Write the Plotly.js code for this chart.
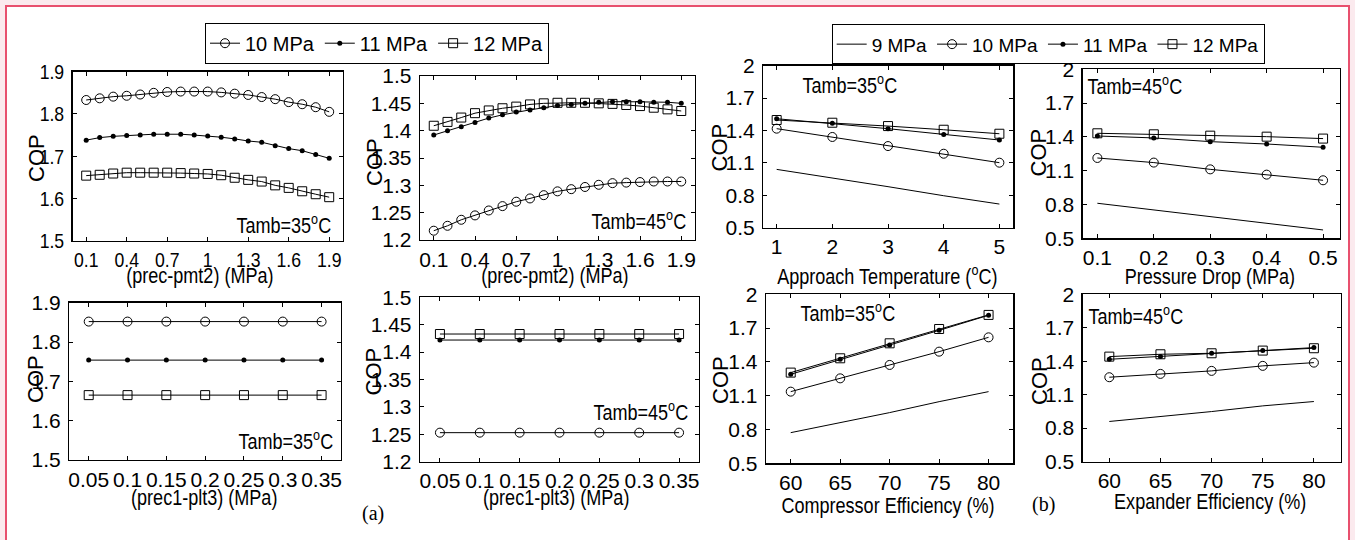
<!DOCTYPE html>
<html>
<head>
<meta charset="utf-8">
<script src="https://cdn.plot.ly/plotly-3.0.1.min.js"></script>
<style>html,body{margin:0;padding:0;background:#fbeaee;}#chart{width:1355px;height:540px;}</style>
</head>
<body>
<div id="chart"></div>
<script>
// ---------------- DATA ----------------
const seriesNames = ["9 MPa", "10 MPa", "11 MPa", "12 MPa"];

// (a) top row: COP vs (prec-pmt2)
const xPmt2 = [0.1,0.2,0.3,0.4,0.5,0.6,0.7,0.8,0.9,1.0,1.1,1.2,1.3,1.4,1.5,1.6,1.7,1.8,1.9];
const pmt2_T35_10 = [1.833,1.837,1.841,1.843,1.846,1.850,1.852,1.853,1.853,1.853,1.851,1.848,1.845,1.840,1.835,1.828,1.823,1.816,1.805];
const pmt2_T35_11 = [1.738,1.744,1.747,1.749,1.750,1.752,1.752,1.752,1.750,1.748,1.745,1.741,1.736,1.733,1.725,1.718,1.713,1.704,1.695];
const pmt2_T35_12 = [1.654,1.656,1.659,1.661,1.661,1.661,1.661,1.660,1.659,1.658,1.655,1.649,1.644,1.640,1.631,1.625,1.617,1.610,1.603];
const pmt2_T45_10 = [1.217,1.226,1.237,1.245,1.254,1.262,1.270,1.276,1.282,1.289,1.293,1.297,1.301,1.304,1.305,1.306,1.307,1.307,1.307];
const pmt2_T45_11 = [1.392,1.400,1.407,1.415,1.423,1.429,1.434,1.438,1.442,1.446,1.448,1.450,1.452,1.453,1.453,1.453,1.452,1.452,1.450];
const pmt2_T45_12 = [1.409,1.416,1.424,1.432,1.437,1.441,1.444,1.448,1.450,1.451,1.451,1.451,1.450,1.449,1.447,1.445,1.442,1.439,1.436];

// (a) bottom row: COP vs (prec1-plt3)
const xPlt3 = [0.05,0.1,0.15,0.2,0.25,0.3,0.35];
const plt3_T35_10 = [1.852,1.852,1.852,1.852,1.852,1.852,1.852];
const plt3_T35_11 = [1.754,1.754,1.754,1.754,1.754,1.754,1.754];
const plt3_T35_12 = [1.665,1.665,1.665,1.665,1.665,1.665,1.665];
const plt3_T45_10 = [1.253,1.253,1.253,1.253,1.253,1.253,1.253];
const plt3_T45_11 = [1.422,1.422,1.422,1.422,1.422,1.422,1.422];
const plt3_T45_12 = [1.433,1.433,1.433,1.433,1.433,1.433,1.433];

// (b) Approach temperature (Tamb=35)
const xApproach = [1,2,3,4,5];
const appr_9  = [1.040,0.963,0.880,0.796,0.719];
const appr_10 = [1.417,1.340,1.256,1.185,1.102];
const appr_11 = [1.509,1.466,1.417,1.364,1.312];
const appr_12 = [1.497,1.472,1.441,1.407,1.370];

// (b) Pressure drop (Tamb=45)
const xDrop = [0.1,0.2,0.3,0.4,0.5];
const drop_9  = [0.811,0.751,0.692,0.633,0.574];
const drop_10 = [1.213,1.172,1.112,1.065,1.015];
const drop_11 = [1.408,1.391,1.358,1.337,1.308];
const drop_12 = [1.432,1.423,1.411,1.402,1.385];

// (b) Compressor efficiency (Tamb=35)
const xComp = [60,65,70,75,80];
const comp_9  = [0.772,0.861,0.950,1.047,1.136];
const comp_10 = [1.136,1.254,1.373,1.491,1.618];
const comp_11 = [1.290,1.423,1.550,1.680,1.814];
const comp_12 = [1.305,1.432,1.565,1.692,1.817];

// (b) Expander efficiency (Tamb=45)
const xExp = [60,65,70,75,80];
const exp_9  = [0.859,0.903,0.948,0.999,1.038];
const exp_10 = [1.256,1.286,1.313,1.358,1.387];
const exp_11 = [1.417,1.441,1.471,1.495,1.522];
const exp_12 = [1.441,1.462,1.471,1.495,1.516];

// x-axis titles
const xTitles = ["(prec-pmt2) (MPa)", "(prec-pmt2) (MPa)", "(prec1-plt3) (MPa)", "(prec1-plt3) (MPa)",
  "Approach Temperature (<sup>o</sup>C)", "Pressure Drop (MPa)", "Compressor Efficiency (%)", "Expander Efficiency (%)"];
const yTitle = "COP";
const tambLabels = ["Tamb=35<sup>o</sup>C", "Tamb=45<sup>o</sup>C", "Tamb=35<sup>o</sup>C", "Tamb=45<sup>o</sup>C",
  "Tamb=35<sup>o</sup>C", "Tamb=45<sup>o</sup>C", "Tamb=35<sup>o</sup>C", "Tamb=45<sup>o</sup>C"];

// ---------------- STYLE / LAYOUT ----------------
const W = 1355, H = 540;
const SANS = "Liberation Sans, Arial, sans-serif";
const SERIF = "Liberation Serif, Times New Roman, serif";

const styles = {
  "9 MPa":  {mode: "lines"},
  "10 MPa": {mode: "lines+markers", marker: {symbol: "circle-open", size: 9, color: "black", line: {width: 1, color: "black"}}},
  "11 MPa": {mode: "lines+markers", marker: {symbol: "circle", size: 5, color: "black"}},
  "12 MPa": {mode: "lines+markers", marker: {symbol: "square-open", size: 9, color: "black", line: {width: 1, color: "black"}}}
};

const traces = [];
function add(x, y, name, idx, legend) {
  const s = styles[name];
  const t = {
    type: "scatter", x: x, y: y, name: name, mode: s.mode,
    line: {color: "black", width: 1},
    xaxis: idx === 1 ? "x" : "x" + idx,
    yaxis: idx === 1 ? "y" : "y" + idx,
    showlegend: !!legend, legendgroup: name
  };
  if (s.marker) t.marker = s.marker;
  if (legend) t.legend = legend;
  traces.push(t);
}
add(xPmt2, pmt2_T35_10, seriesNames[1], 1, "legend");
add(xPmt2, pmt2_T35_11, seriesNames[2], 1, "legend");
add(xPmt2, pmt2_T35_12, seriesNames[3], 1, "legend");
add(xPmt2, pmt2_T45_10, seriesNames[1], 2);
add(xPmt2, pmt2_T45_11, seriesNames[2], 2);
add(xPmt2, pmt2_T45_12, seriesNames[3], 2);
add(xPlt3, plt3_T35_10, seriesNames[1], 3);
add(xPlt3, plt3_T35_11, seriesNames[2], 3);
add(xPlt3, plt3_T35_12, seriesNames[3], 3);
add(xPlt3, plt3_T45_10, seriesNames[1], 4);
add(xPlt3, plt3_T45_11, seriesNames[2], 4);
add(xPlt3, plt3_T45_12, seriesNames[3], 4);
add(xApproach, appr_9,  seriesNames[0], 5, "legend2");
add(xApproach, appr_10, seriesNames[1], 5, "legend2");
add(xApproach, appr_11, seriesNames[2], 5, "legend2");
add(xApproach, appr_12, seriesNames[3], 5, "legend2");
add(xDrop, drop_9,  seriesNames[0], 6);
add(xDrop, drop_10, seriesNames[1], 6);
add(xDrop, drop_11, seriesNames[2], 6);
add(xDrop, drop_12, seriesNames[3], 6);
add(xComp, comp_9,  seriesNames[0], 7);
add(xComp, comp_10, seriesNames[1], 7);
add(xComp, comp_11, seriesNames[2], 7);
add(xComp, comp_12, seriesNames[3], 7);
add(xExp, exp_9,  seriesNames[0], 8);
add(xExp, exp_10, seriesNames[1], 8);
add(xExp, exp_11, seriesNames[2], 8);
add(xExp, exp_12, seriesNames[3], 8);

// panel geometry in pixels: box [left, right, top, bottom]; title/label centres in pixels
const panels = [
  {box: [72.7, 342.7, 71.7, 240.7],     xr: [0, 2],         x0: 0.1,  dx: 0.3,  yr: [1.5, 1.9], y0: 1.5, dy: 0.1,  xtPos: [200, 275],   copPos: [37, 158],     tamb: [284, 224]},
  {box: [420, 695, 76, 240],            xr: [0, 2],         x0: 0.1,  dx: 0.3,  yr: [1.2, 1.5], y0: 1.2, dy: 0.05, xtPos: [555, 275],   copPos: [374, 162],    tamb: [639, 220]},
  {box: [69.3, 341, 302.7, 460],        xr: [0.025, 0.375], x0: 0.05, dx: 0.05, yr: [1.5, 1.9], y0: 1.5, dy: 0.1,  xtPos: [204, 497],   copPos: [35, 379],     tamb: [286, 440]},
  {box: [420, 699, 297.3, 461.7],       xr: [0.025, 0.375], x0: 0.05, dx: 0.05, yr: [1.2, 1.5], y0: 1.2, dy: 0.05, xtPos: [556, 497],   copPos: [372.5, 372],  tamb: [641, 411]},
  {box: [763.3, 1013.3, 65.7, 227.7],   xr: [0.76, 5.25],   x0: 1,    dx: 1,    yr: [0.5, 2],   y0: 0.5, dy: 0.3,  xtPos: [887, 275],   copPos: [718.5, 148],  tamb: [850, 84]},
  {box: [1082.7, 1340, 69.3, 238.3],    xr: [0.074, 0.53],  x0: 0.1,  dx: 0.1,  yr: [0.5, 2],   y0: 0.5, dy: 0.3,  xtPos: [1210, 276],  copPos: [1037.5, 153], tamb: [1135, 85]},
  {box: [766, 1013.3, 294.3, 463.3],    xr: [57.5, 82.5],   x0: 60,   dx: 5,    yr: [0.5, 2],   y0: 0.5, dy: 0.3,  xtPos: [888, 505],   copPos: [720, 380],    tamb: [848, 312]},
  {box: [1082.7, 1340.5, 294.3, 461.5], xr: [57.4, 82.6],   x0: 60,   dx: 5,    yr: [0.5, 2],   y0: 0.5, dy: 0.3,  xtPos: [1210, 501],  copPos: [1039, 381],   tamb: [1136, 315]}
];

const layout = {
  width: W, height: H,
  margin: {l: 0, r: 0, t: 0, b: 0, pad: 0},
  paper_bgcolor: "#fbeaee",
  plot_bgcolor: "white",
  font: {family: SANS, size: 20, color: "black"},
  showlegend: true,
  legend: {
    x: 205 / W, y: 1 - 22.7 / H, xanchor: "left", yanchor: "top",
    orientation: "h", bgcolor: "white", bordercolor: "black", borderwidth: 1,
    font: {family: SANS, size: 20, color: "black"}, itemwidth: 30
  },
  legend2: {
    x: 831.7 / W, y: 1 - 24.3 / H, xanchor: "left", yanchor: "top",
    orientation: "h", bgcolor: "white", bordercolor: "black", borderwidth: 1,
    font: {family: SANS, size: 19, color: "black"}, itemwidth: 30
  },
  shapes: [{
    type: "rect", xref: "paper", yref: "paper", layer: "below",
    x0: 6 / W, x1: 1349 / W, y0: -0.05, y1: 1 - 6 / H,
    fillcolor: "white", line: {color: "#e8506e", width: 2}
  }],
  annotations: []
};

function ann(text, px, py, font, extra) {
  return Object.assign({
    text: text, xref: "paper", yref: "paper", x: px / W, y: 1 - py / H,
    xanchor: "center", yanchor: "middle", showarrow: false, font: font
  }, extra || {});
}

panels.forEach((p, i) => {
  const n = i + 1;
  const xk = n === 1 ? "xaxis" : "xaxis" + n;
  const yk = n === 1 ? "yaxis" : "yaxis" + n;
  const common = {
    showline: true, linecolor: "black", linewidth: 1.3, mirror: "ticks",
    ticks: "inside", ticklen: 4, tickwidth: 1, tickcolor: "black",
    showgrid: false, zeroline: false, fixedrange: true,
    tickfont: {family: SANS, size: 21, color: "black"}, automargin: false
  };
  layout[xk] = Object.assign({}, common, {
    domain: [p.box[0] / W, p.box[1] / W], range: p.xr,
    tickmode: "linear", tick0: p.x0, dtick: p.dx,
    anchor: n === 1 ? "y" : "y" + n
  });
  layout[yk] = Object.assign({}, common, {
    domain: [1 - p.box[3] / H, 1 - p.box[2] / H], range: p.yr,
    tickmode: "linear", tick0: p.y0, dtick: p.dy, ticklabelstandoff: 3,
    anchor: n === 1 ? "x" : "x" + n
  });
  layout.annotations.push(ann(xTitles[i], p.xtPos[0], p.xtPos[1], {family: SANS, size: 22, color: "black"}, {name: "squeeze"}));
  layout.annotations.push(ann(yTitle, p.copPos[0], p.copPos[1], {family: SANS, size: 22, color: "black"}, {textangle: -90}));
  layout.annotations.push(ann(tambLabels[i], p.tamb[0], p.tamb[1], {family: SANS, size: 22, color: "black"}, {name: "squeeze"}));
});

layout.annotations.push(ann("(a)", 372.5, 513, {family: SERIF, size: 20, color: "black"}));
layout.annotations.push(ann("(b)", 1043, 504, {family: SERIF, size: 20, color: "black"}));

// the source figure uses a condensed sans face: narrow the Liberation Sans glyphs horizontally
function squeeze(elements, f) {
  elements.forEach(el => {
    const len = el.getComputedTextLength();
    if (len > 0) {
      el.setAttribute("textLength", (len * f).toFixed(2));
      el.setAttribute("lengthAdjust", "spacingAndGlyphs");
    }
  });
}

Plotly.newPlot("chart", traces, layout, {staticPlot: true, displayModeBar: false}).then(gd => {
  squeeze(Array.from(gd.querySelectorAll(".xtick text, .ytick text")), 0.84);
  const annTexts = Array.from(gd.querySelectorAll(".annotation-text")).filter(el => {
    const t = el.textContent;
    return t !== yTitle && t !== "(a)" && t !== "(b)";
  });
  squeeze(annTexts, 0.82);
});
</script>
</body>
</html>
